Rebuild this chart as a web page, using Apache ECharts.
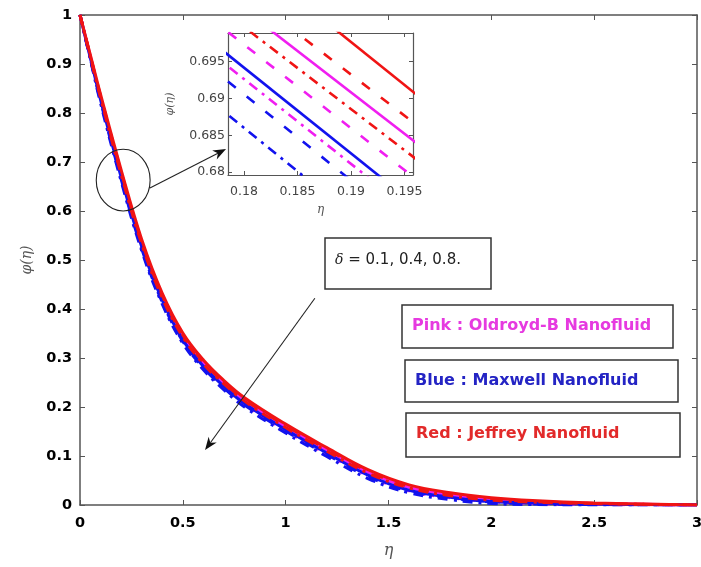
<!DOCTYPE html>
<html>
<head>
<meta charset="utf-8">
<script src="https://cdn.jsdelivr.net/npm/echarts@6/dist/echarts.min.js"></script>
<style>
  html, body { margin: 0; padding: 0; background: #fff; }
  #chart { width: 701px; height: 567px; }
</style>
</head>
<body>
<div id="chart"></div>
<script>
// Concentration profiles phi(eta) for three nanofluid models and delta = 0.1, 0.4, 0.8
const eta = [0, 0.05, 0.1, 0.2, 0.3, 0.4, 0.5, 0.6, 0.7, 0.8, 1.0, 1.2, 1.4, 1.6, 1.8, 2.0, 2.2, 2.5, 3.0];

const pinkD01 = [1, 0.916, 0.833, 0.677, 0.535, 0.425, 0.345, 0.290, 0.249, 0.214, 0.160, 0.112, 0.067, 0.036, 0.021, 0.011, 0.007, 0.003, 0];
const pinkD04 = [1, 0.914, 0.829, 0.672, 0.530, 0.421, 0.340, 0.286, 0.245, 0.210, 0.156, 0.108, 0.063, 0.033, 0.018, 0.009, 0.005, 0.002, 0];
const pinkD08 = [1, 0.912, 0.825, 0.667, 0.525, 0.416, 0.336, 0.282, 0.241, 0.206, 0.152, 0.104, 0.060, 0.029, 0.015, 0.007, 0.003, 0.001, 0];

const blueD01 = [1, 0.913, 0.827, 0.669, 0.527, 0.418, 0.337, 0.283, 0.242, 0.207, 0.154, 0.106, 0.061, 0.030, 0.016, 0.007, 0.004, 0.002, 0];
const blueD04 = [1, 0.911, 0.824, 0.665, 0.523, 0.414, 0.334, 0.280, 0.239, 0.204, 0.151, 0.103, 0.058, 0.028, 0.014, 0.006, 0.002, 0.001, 0];
const blueD08 = [1, 0.910, 0.820, 0.661, 0.519, 0.410, 0.330, 0.276, 0.235, 0.200, 0.147, 0.099, 0.054, 0.025, 0.011, 0.003, 0.001, 0.000, 0];

const redD01 = [1, 0.919, 0.838, 0.684, 0.542, 0.432, 0.351, 0.296, 0.254, 0.219, 0.165, 0.117, 0.072, 0.041, 0.025, 0.015, 0.009, 0.004, 0];
const redD04 = [1, 0.917, 0.835, 0.680, 0.538, 0.428, 0.347, 0.292, 0.250, 0.215, 0.162, 0.114, 0.069, 0.038, 0.022, 0.013, 0.007, 0.003, 0];
const redD08 = [1, 0.915, 0.831, 0.675, 0.533, 0.423, 0.343, 0.288, 0.247, 0.212, 0.158, 0.110, 0.065, 0.035, 0.019, 0.010, 0.006, 0.003, 0];

// Magnified window around eta = 0.18 .. 0.195
const insetEta = [0.175, 0.2];
const insetPinkD01 = [0.7077, 0.6796];
const insetPinkD04 = [0.7030, 0.6746];
const insetPinkD08 = [0.6984, 0.6696];
const insetBlueD01 = [0.7000, 0.6709];
const insetBlueD04 = [0.6964, 0.6672];
const insetBlueD08 = [0.6919, 0.6624];
const insetRedD01 = [0.7152, 0.6860];
const insetRedD04 = [0.7100, 0.6821];
const insetRedD08 = [0.7053, 0.6774];

const insetXTicks = [0.18, 0.185, 0.19, 0.195];
const insetYTicks = [0.68, 0.685, 0.69, 0.695];

const PINK = '#f01ef0', BLUE = '#1212ee', RED = '#f01414';
const SOLID = 'solid', DASHED = [10, 14], DASHDOT = [10, 6, 3, 6];

const curves = [
  { color: PINK, dash: SOLID,   main: pinkD01, inset: insetPinkD01 },
  { color: PINK, dash: DASHED,  main: pinkD04, inset: insetPinkD04 },
  { color: PINK, dash: DASHDOT, main: pinkD08, inset: insetPinkD08 },
  { color: BLUE, dash: SOLID,   main: blueD01, inset: insetBlueD01 },
  { color: BLUE, dash: DASHED,  main: blueD04, inset: insetBlueD04 },
  { color: BLUE, dash: DASHDOT, main: blueD08, inset: insetBlueD08 },
  { color: RED,  dash: SOLID,   main: redD01,  inset: insetRedD01 },
  { color: RED,  dash: DASHED,  main: redD04,  inset: insetRedD04 },
  { color: RED,  dash: DASHDOT, main: redD08,  inset: insetRedD08 }
];

const series = [];
curves.forEach(c => {
  series.push({
    type: 'line', xAxisIndex: 0, yAxisIndex: 0,
    data: eta.map((x, i) => [x, c.main[i]]),
    smooth: 0.4, showSymbol: false, silent: true,
    lineStyle: { color: c.color, width: 3, type: c.dash }
  });
  series.push({
    type: 'line', xAxisIndex: 2, yAxisIndex: 2,
    data: insetEta.map((x, i) => [x, c.inset[i]]),
    showSymbol: false, silent: true, clip: true,
    lineStyle: { color: c.color, width: 2.6, type: c.dash }
  });
});

const AX = '#555';
const boldLabel = { color: '#000', fontFamily: 'DejaVu Sans', fontWeight: 'bold', fontSize: 14.5 };
const insetLabel = { color: '#444', fontFamily: 'DejaVu Sans', fontSize: 12.5 };
const nameStyle = { fontFamily: 'DejaVu Serif', fontStyle: 'italic', color: '#555' };

function sideAxis(grid, pos, min, max, extra) {
  return Object.assign({
    gridIndex: grid, type: 'value', position: pos, min: min, max: max,
    axisLine: { show: true, onZero: false, lineStyle: { color: AX, width: 1.5 } },
    axisTick: { show: true, inside: true, length: 5, lineStyle: { color: AX, width: 1 } },
    axisLabel: { show: false },
    splitLine: { show: false }
  }, extra || {});
}

const option = {
  animation: false,
  backgroundColor: '#fff',
  grid: [
    { left: 80, right: 4, top: 15, bottom: 62, outerBoundsMode: 'none', containLabel: false },
    { left: 228, top: 33, width: 185, height: 142, outerBoundsMode: 'none', containLabel: false,
      show: true, backgroundColor: '#fff', borderWidth: 0 }
  ],
  xAxis: [
    sideAxis(0, 'bottom', 0, 3, {
      interval: 0.5,
      axisLabel: Object.assign({ show: true, margin: 11 }, boldLabel),
      name: 'η', nameLocation: 'middle', nameGap: 38,
      nameTextStyle: Object.assign({ fontSize: 16 }, nameStyle)
    }),
    sideAxis(0, 'top', 0, 3, { interval: 0.5 }),
    sideAxis(1, 'bottom', 0.1785, 0.1958, {
      axisTick: { show: true, inside: true, length: 4, customValues: insetXTicks, lineStyle: { color: AX } },
      axisLine: { show: true, onZero: false, lineStyle: { color: AX, width: 1.2 } },
      axisLabel: Object.assign({ show: true, margin: 10, customValues: insetXTicks }, insetLabel),
      name: 'η', nameLocation: 'middle', nameGap: 29,
      nameTextStyle: Object.assign({ fontSize: 12 }, nameStyle)
    }),
    sideAxis(1, 'top', 0.1785, 0.1958, {
      axisTick: { show: true, inside: true, length: 4, customValues: insetXTicks, lineStyle: { color: AX } },
      axisLine: { show: true, onZero: false, lineStyle: { color: AX, width: 1.2 } }
    })
  ],
  yAxis: [
    sideAxis(0, 'left', 0, 1, {
      interval: 0.1,
      axisLabel: Object.assign({ show: true, margin: 8 }, boldLabel),
      name: 'φ(η)', nameLocation: 'middle', nameGap: 46,
      nameTextStyle: Object.assign({ fontSize: 14 }, nameStyle)
    }),
    sideAxis(0, 'right', 0, 1, { interval: 0.1 }),
    sideAxis(1, 'left', 0.6796, 0.6989, {
      axisTick: { show: true, inside: true, length: 4, customValues: insetYTicks, lineStyle: { color: AX } },
      axisLine: { show: true, onZero: false, lineStyle: { color: AX, width: 1.2 } },
      axisLabel: Object.assign({ show: true, margin: 3, customValues: insetYTicks }, insetLabel),
      name: 'φ(η)', nameLocation: 'middle', nameGap: 52,
      nameTextStyle: Object.assign({ fontSize: 11 }, nameStyle)
    }),
    sideAxis(1, 'right', 0.6796, 0.6989, {
      axisTick: { show: true, inside: true, length: 4, customValues: insetYTicks, lineStyle: { color: AX } },
      axisLine: { show: true, onZero: false, lineStyle: { color: AX, width: 1.2 } }
    })
  ],
  series: series
};

const chart = echarts.init(document.getElementById('chart'), null, { renderer: 'canvas' });
chart.setOption(option);

// Annotations: zoom circle, arrows and the text boxes
const toPx = p => chart.convertToPixel({ gridIndex: 0 }, p);

function arrow(from, to, headLen, headW) {
  const dx = to[0] - from[0], dy = to[1] - from[1];
  const len = Math.hypot(dx, dy), ux = dx / len, uy = dy / len;
  const px = -uy, py = ux;
  const bx = to[0] - ux * headLen, by = to[1] - uy * headLen;
  const nx = to[0] - ux * headLen * 0.7, ny = to[1] - uy * headLen * 0.7;
  return [
    { type: 'line', silent: true, z: 100,
      shape: { x1: from[0], y1: from[1], x2: nx, y2: ny },
      style: { stroke: '#222', lineWidth: 1.1 } },
    { type: 'polygon', silent: true, z: 100,
      shape: { points: [to, [bx + px * headW, by + py * headW], [nx, ny], [bx - px * headW, by - py * headW]] },
      style: { fill: '#111' } }
  ];
}

const circleCenter = [0.21, 0.663];
const circleEdge = [0.341, 0.600];
const zoomArrowFrom = [0.340, 0.647], zoomArrowTo = [0.710, 0.7265];
const deltaArrowFrom = [1.142, 0.422], deltaArrowTo = [0.608, 0.112];

const c0 = toPx(circleCenter), c1 = toPx(circleEdge);
const rx = c1[0] - c0[0], ry = c1[1] - c0[1];

function box(x, y, w, h) {
  return { type: 'rect', silent: true, z: 100,
    shape: { x: x, y: y, width: w, height: h },
    style: { fill: '#fff', stroke: '#333', lineWidth: 1.5 } };
}
function label(x, y, text, color) {
  return { type: 'text', silent: true, z: 101, x: x, y: y,
    style: { text: text, fill: color, fontFamily: 'DejaVu Sans', fontWeight: 'bold',
      fontSize: 16, verticalAlign: 'middle', align: 'left' } };
}

const graphics = [
  { type: 'ellipse', silent: true, z: 100,
    shape: { cx: c0[0], cy: c0[1], rx: rx, ry: ry },
    style: { fill: 'none', stroke: '#222', lineWidth: 1.1 } }
]
  .concat(arrow(toPx(zoomArrowFrom), toPx(zoomArrowTo), 13, 5))
  .concat(arrow(toPx(deltaArrowFrom), toPx(deltaArrowTo), 13, 5))
  .concat([
    box(325, 238, 166, 51),
    { type: 'text', silent: true, z: 101, x: 335, y: 260,
      style: { text: '{d|δ}{t| = 0.1, 0.4, 0.8.}', verticalAlign: 'middle', align: 'left',
        rich: {
          d: { fontFamily: 'DejaVu Serif', fontStyle: 'italic', fontSize: 14, fill: '#222' },
          t: { fontFamily: 'DejaVu Sans', fontSize: 15, fill: '#222' }
        } } },
    box(402, 305, 271, 43),
    label(412, 326, 'Pink : Oldroyd-B Nanofluid', '#e63ae0'),
    box(405, 360, 273, 42),
    label(415, 381, 'Blue : Maxwell Nanofluid', '#2424c4'),
    box(406, 413, 274, 44),
    label(416, 434, 'Red : Jeffrey Nanofluid', '#e22a2a')
  ]);

chart.setOption({ graphic: graphics });
</script>
</body>
</html>
